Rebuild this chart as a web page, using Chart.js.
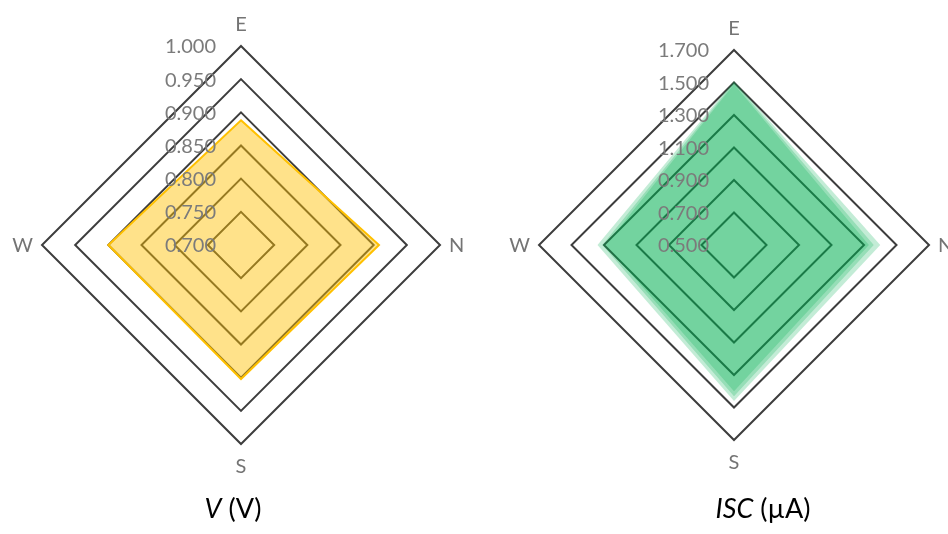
<!DOCTYPE html>
<html>
<head>
<meta charset="utf-8">
<script src="https://cdn.jsdelivr.net/npm/chart.js@4.4.1/dist/chart.umd.min.js"></script>
<style>
  html, body { margin: 0; padding: 0; background: #fff; }
  body { width: 948px; height: 534px; overflow: hidden; position: relative; font-family: Lato, "Open Sans", sans-serif; }
  .panel { position: absolute; top: 0; width: 474px; height: 534px; }
  .caption { position: absolute; top: 490px; font-size: 27px; line-height: 36px; color: #000; white-space: nowrap; transform: translateX(-50%); }
  .caption i { font-style: italic; }
</style>
</head>
<body>
<div class="panel" style="left:0"><canvas id="chartV"></canvas></div>
<div class="panel" style="left:474px"><canvas id="chartI"></canvas></div>
<div class="caption" style="left:233px"><i>V</i> (V)</div>
<div class="caption" style="left:763px"><i>ISC</i> (µA)</div>
<script>
// Directions around each radar, clockwise from the top
const directions = ['E', 'N', 'S', 'W'];

// Open-circuit voltage per direction (V)
const voltage = [0.888, 0.908, 0.902, 0.900];
const voltageTicks = [0.700, 0.750, 0.800, 0.850, 0.900, 0.950, 1.000];

// Short-circuit current per direction (µA), three overlapping runs
const currentRunA = [1.51, 1.40, 1.46, 1.34];
const currentRunB = [1.50, 1.36, 1.43, 1.31];
const currentRunC = [1.49, 1.33, 1.40, 1.29];
const currentTicks = [0.500, 0.700, 0.900, 1.100, 1.300, 1.500, 1.700];

const FONT = 'Lato, "Open Sans", sans-serif';

// Draws the value labels left of the vertical axis and the direction labels
// outside the outer ring, using the scale's own geometry.
const radarLabels = {
  id: 'radarLabels',
  afterDatasetsDraw(chart) {
    const scale = chart.scales.r;
    const ctx = chart.ctx;
    const tickVals = chart.options.scales.r.tickValues;
    ctx.save();
    ctx.font = '20px ' + FONT;
    ctx.fillStyle = '#7b7b7b';
    ctx.textAlign = 'right';
    ctx.textBaseline = 'middle';
    tickVals.forEach(v => {
      const p = scale.getPointPositionForValue(0, v);
      ctx.fillText(v.toFixed(3), scale.xCenter - 25, p.y + 1);
    });
    ctx.fillStyle = '#747474';
    chart.data.labels.forEach((lab, i) => {
      const ang = scale.getIndexAngle(i);
      const vertical = Math.abs(Math.sin(ang)) < 0.5;
      const p = scale.getPointPosition(i, scale.drawingArea + (vertical ? 22 : 9));
      if (vertical) {
        ctx.textAlign = 'center';
      } else {
        ctx.textAlign = Math.sin(ang) > 0 ? 'left' : 'right';
      }
      ctx.textBaseline = 'middle';
      ctx.fillText(lab, p.x, p.y + 1);
    });
    ctx.restore();
  }
};

function radarScale(ticks) {
  return {
    r: {
      min: ticks[0],
      max: ticks[ticks.length - 1],
      tickValues: ticks,
      afterBuildTicks: s => { s.ticks = ticks.map(v => ({ value: v })); },
      angleLines: { display: false },
      grid: { color: '#3d3d3d', lineWidth: 2 },
      ticks: { display: false },
      pointLabels: { display: false }
    }
  };
}

const common = {
  responsive: true,
  maintainAspectRatio: false,
  animation: false,
  plugins: { legend: { display: false }, tooltip: { enabled: false } },
  elements: { point: { radius: 0 }, line: { tension: 0 } }
};

new Chart(document.getElementById('chartV'), {
  type: 'radar',
  data: {
    labels: directions,
    datasets: [{
      data: voltage,
      fill: true,
      backgroundColor: 'rgba(255, 192, 0, 0.46)',
      borderColor: '#FFC000',
      borderWidth: 2
    }]
  },
  options: Object.assign({}, common, {
    layout: { padding: { left: 42, top: 46, right: 34, bottom: 90 } },
    scales: radarScale(voltageTicks)
  }),
  plugins: [radarLabels]
});

const greenFill = 'rgba(0, 176, 80, 0.235)';
function currentSet(values) {
  return { data: values, fill: true, backgroundColor: greenFill, borderColor: 'rgba(0,0,0,0)', borderWidth: 0 };
}

new Chart(document.getElementById('chartI'), {
  type: 'radar',
  data: {
    labels: directions,
    datasets: [currentSet(currentRunA), currentSet(currentRunB), currentSet(currentRunC)]
  },
  options: Object.assign({}, common, {
    layout: { padding: { left: 65, top: 50, right: 19, bottom: 94 } },
    scales: radarScale(currentTicks)
  }),
  plugins: [radarLabels]
});
</script>
</body>
</html>
